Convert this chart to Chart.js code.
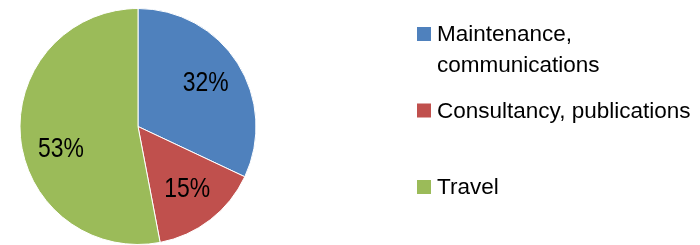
<!DOCTYPE html>
<html>
<head>
<meta charset="utf-8">
<script src="https://cdn.jsdelivr.net/npm/chart.js@4.4.0/dist/chart.umd.min.js"></script>
<style>
  html, body { margin: 0; padding: 0; background: #fff; }
  #wrap { width: 700px; height: 245px; }
</style>
</head>
<body>
<div id="wrap"><canvas id="pie"></canvas></div>
<script>
// chart data
const categories = [["Maintenance,", "communications"], ["Consultancy, publications"], ["Travel"]];
const shares = [32, 15, 53];
const sliceColors = ["#4F81BD", "#C0504D", "#9BBB59"];

const FONT = "'Liberation Sans', Arial, sans-serif";

// percent labels inside the slices (slightly condensed like the original)
const sliceLabels = {
  id: 'sliceLabels',
  afterDatasetsDraw(chart, args, opts) {
    const ctx = chart.ctx;
    const meta = chart.getDatasetMeta(0);
    const total = shares.reduce((a, b) => a + b, 0);
    ctx.save();
    ctx.font = opts.size + "px " + FONT;
    ctx.fillStyle = "#000";
    ctx.textAlign = "center";
    ctx.textBaseline = "middle";
    meta.data.forEach((arc, i) => {
      const p = arc.getProps(['x', 'y', 'startAngle', 'endAngle', 'outerRadius'], true);
      const mid = (p.startAngle + p.endAngle) / 2 + (opts.shift[i] || 0) * Math.PI / 180;
      const r = p.outerRadius * opts.radius;
      const pct = Math.round(shares[i] / total * 100) + "%";
      ctx.save();
      ctx.translate(p.x + Math.cos(mid) * r, p.y + Math.sin(mid) * r);
      ctx.scale(opts.squeeze, 1);
      ctx.fillText(pct, 0, 0);
      ctx.restore();
    });
    ctx.restore();
  }
};

// legend on the right, multi-line labels
const sideLegend = {
  id: 'sideLegend',
  afterDraw(chart, args, opts) {
    const ctx = chart.ctx;
    ctx.save();
    ctx.font = opts.size + "px " + FONT;
    ctx.textBaseline = "alphabetic";
    ctx.textAlign = "left";
    chart.data.labels.forEach((lines, i) => {
      const top = opts.top + i * opts.step;
      ctx.fillStyle = chart.data.datasets[0].backgroundColor[i];
      ctx.fillRect(opts.x, top, opts.box, opts.box);
      ctx.fillStyle = "#000";
      lines.forEach((line, j) => {
        ctx.fillText(line, opts.x + opts.box + 6, top + opts.box + j * opts.lineHeight);
      });
    });
    ctx.restore();
  }
};

new Chart(document.getElementById('pie'), {
  type: 'pie',
  data: {
    labels: categories,
    datasets: [{
      data: shares,
      backgroundColor: sliceColors,
      borderColor: "#fff",
      borderWidth: 1
    }]
  },
  options: {
    responsive: true,
    maintainAspectRatio: false,
    animation: false,
    layout: { padding: { top: 8, bottom: 0, left: 19, right: 443 } },
    plugins: {
      legend: { display: false },
      tooltip: { enabled: false },
      sliceLabels: { size: 27, radius: 0.68, shift: [0, 0, -11], squeeze: 0.85 },
      sideLegend: { x: 417, top: 27, step: 76.5, box: 14, size: 22.5, lineHeight: 31 }
    }
  },
  plugins: [sliceLabels, sideLegend]
});
</script>
</body>
</html>
